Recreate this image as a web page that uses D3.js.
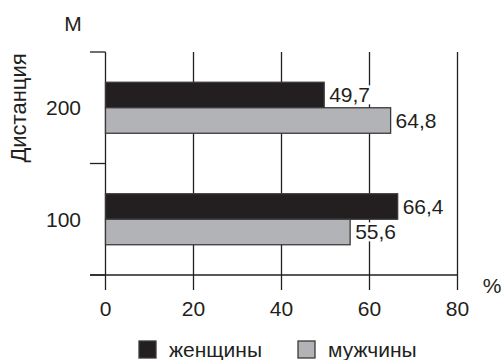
<!DOCTYPE html>
<html>
<head>
<meta charset="utf-8">
<script src="https://cdn.jsdelivr.net/npm/d3@7"></script>
<style>
  body { margin: 0; background: #fff; }
  text { font-family: "Liberation Sans", Arial, sans-serif; fill: #231f20; }
</style>
</head>
<body>
<svg id="chart" width="502" height="360"></svg>
<script>
// data
const distances = ['200', '100'];
const series = ['женщины', 'мужчины'];
const women = [49.7, 66.4];
const men = [64.8, 55.6];
const xTicks = [0, 20, 40, 60, 80];
const colors = ['#231f20', '#b2b3b6'];

const svg = d3.select('#chart');
const fs = 21;

const x = d3.scaleLinear().domain([0, 80]).range([105.5, 457.5]);
const y = d3.scaleBand().domain(distances).range([52, 275]);
const ySub = d3.scaleBand().domain(series).range([-25.5, 25.5]);

// gridlines (extend below axis as ticks)
svg.append('g').selectAll('line')
    .data(xTicks)
    .join('line')
        .attr('x1', d => x(d)).attr('x2', d => x(d))
        .attr('y1', 52).attr('y2', 290)
        .attr('stroke', '#231f20')
        .attr('stroke-width', 1.3);

// left ticks at band edges
const edges = [52, y('100'), 275];
svg.append('g').selectAll('line')
    .data(edges)
    .join('line')
        .attr('x1', 90).attr('x2', x(0))
        .attr('y1', d => d).attr('y2', d => d)
        .attr('stroke', '#231f20')
        .attr('stroke-width', 1.3);

// x axis line
svg.append('line')
    .attr('x1', 90).attr('x2', x(80))
    .attr('y1', 275).attr('y2', 275)
    .attr('stroke', '#231f20')
    .attr('stroke-width', 1.3);

// bars
const rows = distances.map((d, i) => ({ dist: d, vals: [women[i], men[i]] }));
const groups = svg.append('g').selectAll('g')
    .data(rows)
    .join('g')
        .attr('transform', d => `translate(0,${y(d.dist) + y.bandwidth() / 2})`);

groups.selectAll('rect')
    .data(d => d.vals.map((v, j) => ({ v, s: series[j], j })))
    .join('rect')
        .attr('x', x(0))
        .attr('y', d => ySub(d.s))
        .attr('width', d => x(d.v) - x(0))
        .attr('height', ySub.bandwidth())
        .attr('fill', d => colors[d.j])
        .attr('stroke', '#3a3a3a')
        .attr('stroke-width', 1.3);

// value labels on a white knockout so gridlines stop behind them
const labels = groups.selectAll('g.lbl')
    .data(d => d.vals.map((v, j) => ({ v, s: series[j] })))
    .join('g')
        .attr('class', 'lbl');

labels.append('text')
    .attr('x', d => x(d.v) + 5)
    .attr('y', d => ySub(d.s) + ySub.bandwidth() / 2)
    .attr('dy', '0.35em')
    .attr('font-size', fs)
    .text(d => String(d.v).replace('.', ','));

labels.each(function () {
    const g = d3.select(this);
    const b = g.select('text').node().getBBox();
    g.insert('rect', 'text')
        .attr('x', b.x - 1).attr('y', b.y + 2)
        .attr('width', b.width + 2).attr('height', b.height - 4)
        .attr('fill', '#fff');
});

// category labels
svg.append('g').selectAll('text')
    .data(distances)
    .join('text')
        .attr('x', 81)
        .attr('y', d => y(d) + y.bandwidth() / 2)
        .attr('dy', '0.35em')
        .attr('text-anchor', 'end')
        .attr('font-size', fs)
        .text(d => d);

// x tick labels
svg.append('g').selectAll('text')
    .data(xTicks)
    .join('text')
        .attr('x', d => x(d))
        .attr('y', 316)
        .attr('text-anchor', 'middle')
        .attr('font-size', fs)
        .text(d => d);

// axis titles
svg.append('text')
    .attr('x', 73).attr('y', 31)
    .attr('text-anchor', 'middle')
    .attr('font-size', fs)
    .text('М');

svg.append('text')
    .attr('transform', 'translate(26,108) rotate(-90)')
    .attr('text-anchor', 'middle')
    .attr('font-size', 22)
    .text('Дистанция');

svg.append('text')
    .attr('x', 492).attr('y', 293)
    .attr('text-anchor', 'middle')
    .attr('font-size', fs)
    .text('%');

// legend
const legendX = [139, 298];
const legend = svg.append('g').selectAll('g')
    .data(series)
    .join('g')
        .attr('transform', (d, i) => `translate(${legendX[i]},341)`);

legend.append('rect')
    .attr('width', 17).attr('height', 17)
    .attr('fill', (d, i) => colors[i])
    .attr('stroke', '#3a3a3a')
    .attr('stroke-width', 1.3);

legend.append('text')
    .attr('x', 30).attr('y', 16)
    .attr('font-size', fs)
    .text(d => d);
</script>
</body>
</html>
